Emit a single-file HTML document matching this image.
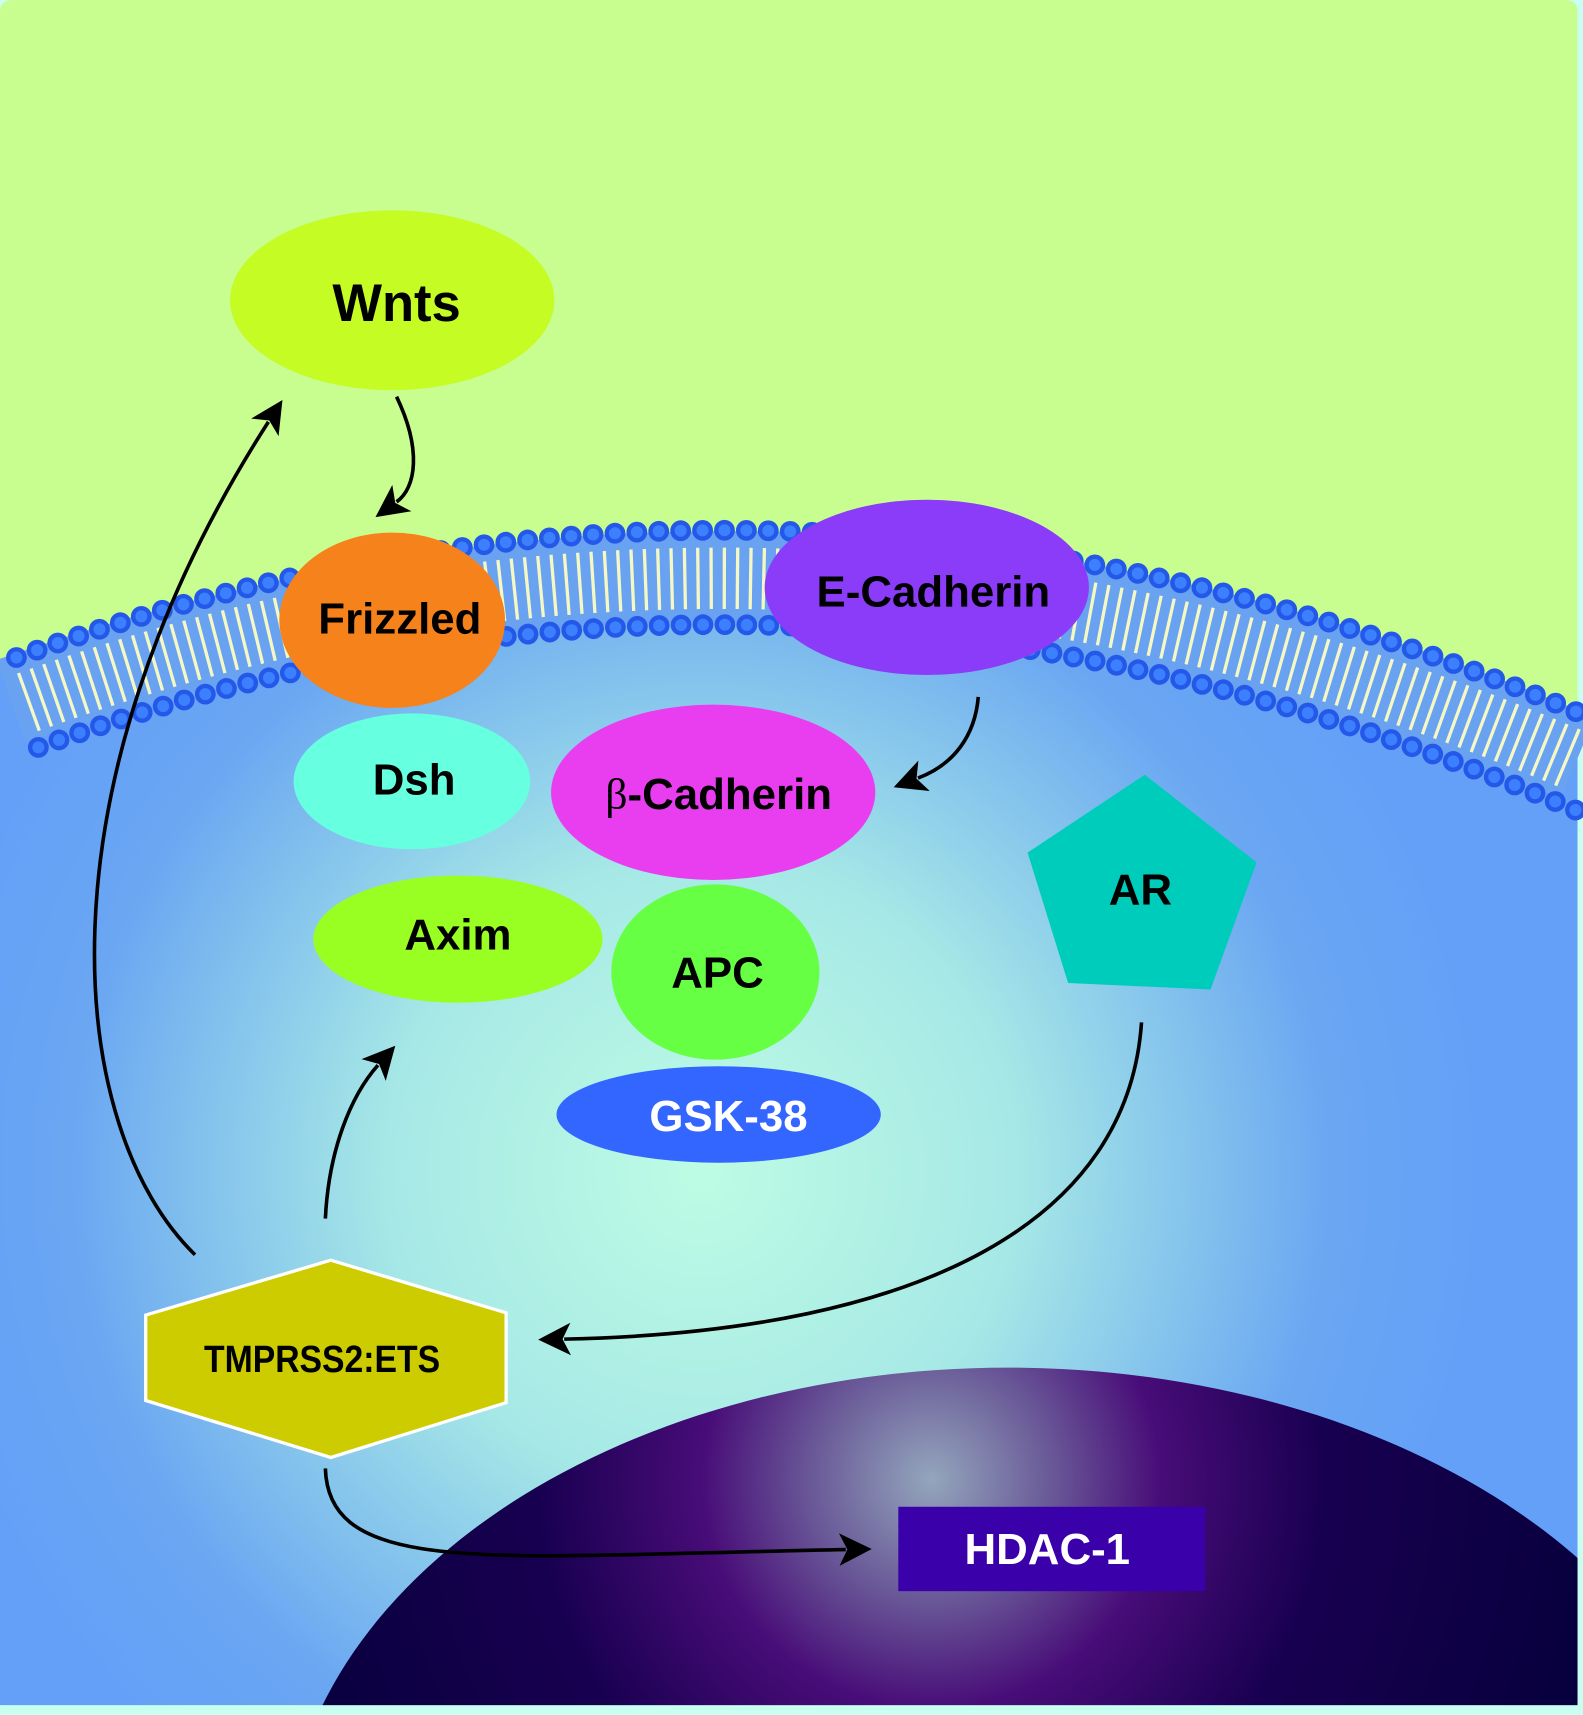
<!DOCTYPE html>
<html><head><meta charset="utf-8"><style>
html,body{margin:0;padding:0;background:#c8fff0;overflow:hidden;width:1583px;height:1715px}
svg{display:block}
text{font-family:"Liberation Sans",Arial,sans-serif;font-weight:bold;text-anchor:middle;dominant-baseline:central}
</style></head><body>
<svg width="1583" height="1715" viewBox="0 0 1445 1565" preserveAspectRatio="none" xmlns="http://www.w3.org/2000/svg">
<defs>
<radialGradient id="cell" gradientUnits="userSpaceOnUse" cx="640" cy="1070" r="720">
<stop offset="0" stop-color="#bdfce4"/><stop offset="0.4" stop-color="#a6e8e6"/><stop offset="0.8" stop-color="#6aa6f2"/><stop offset="1" stop-color="#64a0f8"/>
</radialGradient>
<radialGradient id="nuc" gradientUnits="userSpaceOnUse" cx="850" cy="1350" r="600">
<stop offset="0" stop-color="#93a6bc"/><stop offset="0.18" stop-color="#6a5a98"/><stop offset="0.35" stop-color="#480c78"/><stop offset="0.6" stop-color="#180050"/><stop offset="1" stop-color="#08003e"/>
</radialGradient>
<marker id="ah" viewBox="0 0 10 10" refX="2" refY="5" markerWidth="9" markerHeight="9" orient="auto" markerUnits="strokeWidth">
<path d="M0,0 L10,5 L0,10 L2.5,5 Z" fill="#000"/>
</marker>
</defs>
<rect x="0" y="0" width="1445" height="1565" fill="#c8fff0"/>
<rect x="0" y="0" width="1440" height="1556" rx="10" fill="#c8fd8f"/>
<path d="M 0 604 Q 720 345 1440 648 L1440 1556 L0 1556 Z" fill="url(#cell)"/>
<path d="M 10 640 Q 720 392 1440 692" fill="none" stroke="#6aa2f2" stroke-width="80"/>
<path d="M 25 641 Q 720 390 1440 695" fill="none" stroke="#f6f8c4" stroke-width="56" stroke-dasharray="3 9"/>
<path d="M 15 600 Q 720 345 1440 650" fill="none" stroke="#2458e8" stroke-width="19" stroke-linecap="round" stroke-dasharray="0 20"/>
<path d="M 15 600 Q 720 345 1440 650" fill="none" stroke="#3c80ff" stroke-width="11" stroke-linecap="round" stroke-dasharray="0 20"/>
<path d="M 35 682 Q 720 432 1440 740" fill="none" stroke="#2458e8" stroke-width="19" stroke-linecap="round" stroke-dasharray="0 20"/>
<path d="M 35 682 Q 720 432 1440 740" fill="none" stroke="#3c80ff" stroke-width="11" stroke-linecap="round" stroke-dasharray="0 20"/>
<clipPath id="cp"><rect x="0" y="0" width="1440" height="1556"/></clipPath>
<ellipse cx="920" cy="1700" rx="660" ry="452" fill="url(#nuc)" clip-path="url(#cp)"/>
<ellipse cx="358" cy="274" rx="148" ry="82" fill="#c4fc24"/>
<text x="362" y="277" font-size="48">Wnts</text>
<ellipse cx="358" cy="566" rx="103" ry="80" fill="#f5821a"/>
<text x="365" y="565" font-size="40">Frizzled</text>
<ellipse cx="846" cy="536" rx="148" ry="80" fill="#8a3cf8"/>
<text x="852" y="540" font-size="40">E-Cadherin</text>
<ellipse cx="376" cy="713" rx="108" ry="62" fill="#66ffe0"/>
<text x="378" y="712" font-size="40">Dsh</text>
<ellipse cx="651" cy="723" rx="148" ry="80" fill="#e83ef0"/>
<text x="656" y="725" font-size="40"><tspan font-family="'Liberation Serif',serif" font-weight="normal">β</tspan>-Cadherin</text>
<ellipse cx="418" cy="857" rx="132" ry="58" fill="#99ff22"/>
<text x="418" y="853" font-size="40">Axim</text>
<ellipse cx="653" cy="887" rx="95" ry="80" fill="#66ff44"/>
<text x="655" y="888" font-size="40">APC</text>
<ellipse cx="656" cy="1017" rx="148" ry="44" fill="#3366ff"/>
<text x="665" y="1019" font-size="40" fill="#fff">GSK-38</text>
<polygon points="1045,707 1147,787 1105,903 975,897 938,778" fill="#00ccbb"/>
<text x="1041" y="812" font-size="40">AR</text>
<polygon points="133,1200 302,1150 462,1198 462,1280 302,1330 133,1278" fill="#cccc00" stroke="#fff" stroke-width="3"/>
<text x="294" y="1240" font-size="35" transform="translate(294 1240) scale(0.88 1) translate(-294 -1240)">TMPRSS2:ETS</text>
<rect x="820" y="1375" width="280" height="77" fill="#3a00aa"/>
<text x="956" y="1414" font-size="40" fill="#fff">HDAC-1</text>
<g fill="none" stroke="#000" stroke-width="3.3" marker-end="url(#ah)">
<path d="M362,362 C385,410 380,445 362,458"/>
<path d="M893,636 C890,672 870,698 838,710"/>
<path d="M178,1145 C60,1030 30,720 245,385"/>
<path d="M297,1112 C300,1050 320,1000 345,972"/>
<path d="M1042,933 C1030,1110 850,1215 515,1222"/>
<path d="M297,1340 C300,1440 450,1420 772,1414"/>
</g>
</svg>
</body></html>
